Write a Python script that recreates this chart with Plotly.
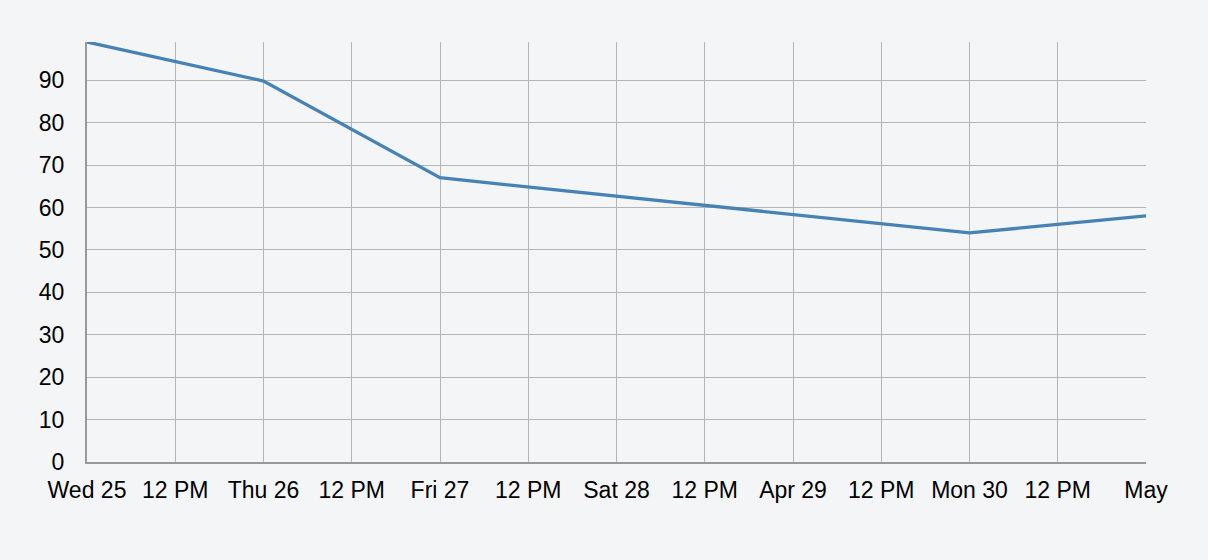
import plotly.graph_objects as go

dates = ["2018-04-25", "2018-04-26", "2018-04-27", "2018-04-30", "2018-05-01"]
values = [99, 89.8, 67, 54, 58]

tick_vals = ["2018-04-25 00:00", "2018-04-25 12:00", "2018-04-26 00:00", "2018-04-26 12:00",
             "2018-04-27 00:00", "2018-04-27 12:00", "2018-04-28 00:00", "2018-04-28 12:00",
             "2018-04-29 00:00", "2018-04-29 12:00", "2018-04-30 00:00", "2018-04-30 12:00",
             "2018-05-01 00:00"]
tick_text = ["Wed 25", "12 PM", "Thu 26", "12 PM", "Fri 27", "12 PM", "Sat 28", "12 PM",
             "Apr 29", "12 PM", "Mon 30", "12 PM", "May"]
y_ticks = [0, 10, 20, 30, 40, 50, 60, 70, 80, 90]

fig = go.Figure()
fig.add_trace(go.Scatter(x=dates, y=values, mode="lines",
                         line=dict(color="#4682b4", width=3.3)))

bg = "#f4f5f7"
fig.update_layout(
    width=1208, height=560,
    paper_bgcolor=bg, plot_bgcolor=bg,
    margin=dict(l=87, r=62, t=42, b=98),
    showlegend=False,
    font=dict(family="Liberation Sans, Arial, sans-serif", size=23, color="#000"),
)
fig.update_xaxes(
    type="date", range=["2018-04-25", "2018-05-01"],
    tickvals=tick_vals, ticktext=tick_text,
    showgrid=True, gridcolor="#b4b5b7", gridwidth=1,
    showline=True, linecolor="#999", linewidth=2, mirror=False,
    ticks="", ticklabelstandoff=6, zeroline=False,
)
fig.update_yaxes(
    range=[0, 99], tickvals=y_ticks,
    showgrid=True, gridcolor="#b4b5b7", gridwidth=1,
    showline=True, linecolor="#999", linewidth=2,
    ticks="", ticklabelstandoff=16, zeroline=False,
)
fig.write_html("out.html", config={"displayModeBar": False},
               post_script="document.body.style.margin='0';document.body.style.background='#f4f5f7';")
